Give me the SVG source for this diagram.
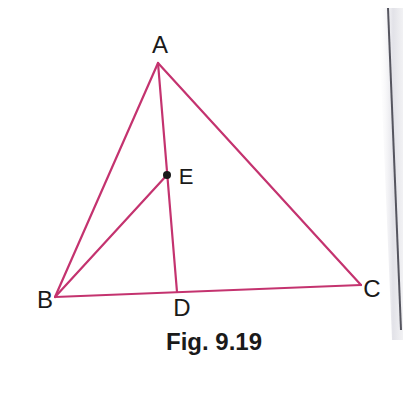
<svg xmlns="http://www.w3.org/2000/svg" width="403" height="402" viewBox="0 0 403 402">
<defs>
<style>
.ln{stroke:#c4336f;stroke-width:2.2;fill:none;stroke-linecap:round;stroke-linejoin:round}
.lb{font-family:"Liberation Sans","DejaVu Sans",sans-serif;font-size:24px;fill:#1a1a1a}
.cap{font-family:"Liberation Sans","DejaVu Sans",sans-serif;font-size:24px;font-weight:bold;fill:#1a1a1a}
</style>
<linearGradient id="edge" x1="0" y1="0" x2="1" y2="0">
<stop offset="0" stop-color="#ffffff" stop-opacity="0"/>
<stop offset="0.6" stop-color="#e2e2e8"/>
<stop offset="1" stop-color="#f2f2f4"/>
</linearGradient>
</defs>
<rect width="403" height="402" fill="#ffffff"/>
<polygon points="378,8 403,8 403,340 392,340" fill="url(#edge)"/>
<line x1="388" y1="8" x2="401" y2="330" stroke="#55555f" stroke-width="2"/>
<g id="connectors">
<line class="ln" x1="158" y1="63" x2="55" y2="297"/>
<line class="ln" x1="158" y1="63" x2="361" y2="285"/>
<line class="ln" x1="55" y1="297" x2="361" y2="285"/>
<line class="ln" x1="158" y1="63" x2="177" y2="292"/>
<line class="ln" x1="55" y1="297" x2="167" y2="175"/>
</g>
<g id="A"><text class="lb" x="160" y="53" text-anchor="middle">A</text></g>
<g id="B"><text class="lb" x="45" y="308" text-anchor="middle">B</text></g>
<g id="C"><text class="lb" x="372" y="297" text-anchor="middle">C</text></g>
<g id="D"><text class="lb" x="182" y="316" text-anchor="middle">D</text></g>
<g id="E"><circle cx="167" cy="175" r="4" fill="#1a1a1a"/><text class="lb" x="186" y="184" text-anchor="middle" style="font-size:22px">E</text></g>
<g id="caption"><text class="cap" x="214" y="350" text-anchor="middle">Fig. 9.19</text></g>
</svg>
